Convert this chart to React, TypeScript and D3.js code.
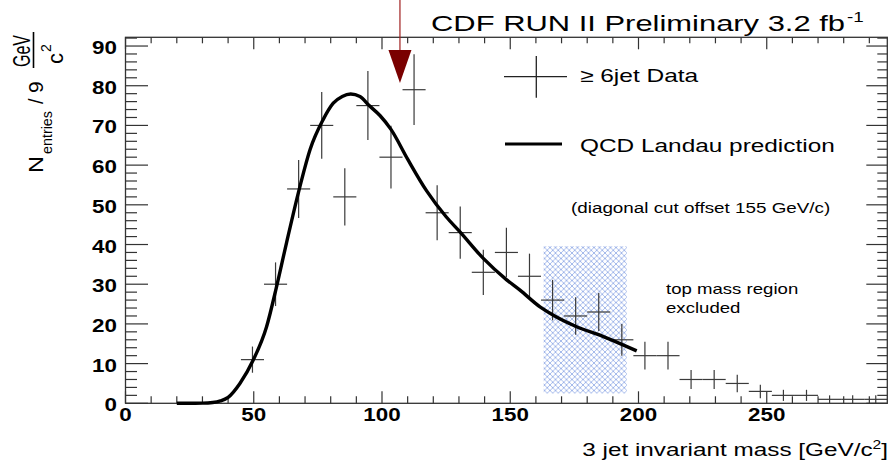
import React from "react";
import * as d3 from "d3";

// ---- data ----
const binCenters = [49.5, 58.5, 67.5, 76.5, 85.5, 94.5, 103.5, 112.5, 121.5, 130.5, 139.5, 148.5, 157.5, 166.5, 175.5, 184.5, 193.5, 202.5, 211.5, 220.5, 229.5, 238.5, 247.5, 256.5, 265.5, 274.5, 283.5, 292.5];
const counts = [11, 30, 54, 70, 52, 75, 62, 79, 48, 43, 33, 38, 32, 26, 22, 23, 16, 12, 12, 6, 6, 5, 3, 2, 2, 1, 1, 1];
const countErrors = [3.3, 5.5, 7.3, 8.4, 7.2, 8.7, 7.9, 8.9, 6.9, 6.6, 5.7, 6.2, 5.7, 5.1, 4.7, 4.8, 4.0, 3.5, 3.5, 2.4, 2.4, 2.2, 1.7, 1.4, 1.4, 1.0, 1.0, 1.0];
const binHalfWidth = 4.5;

const curveX = [20, 30, 34, 37, 40, 44.6, 49.8, 55, 58.9, 62.8, 68, 72, 77, 81, 84.5, 87.8, 91.4, 95, 99.2, 103.5, 110, 117.4, 125, 130.4, 139.5, 148.6, 153.8, 161.6, 166.8, 175.9, 186.3, 199.3];
const curveY = [0, 0.05, 0.2, 0.6, 1.5, 5.0, 10.9, 19.3, 29.4, 40.5, 54.6, 64, 71.4, 75.6, 77.3, 77.9, 77.3, 75, 72.5, 69, 61.5, 53.5, 47, 43.2, 36.5, 31.1, 28.5, 24.3, 22.2, 19.3, 16.8, 13.2];

const xTickLabels = ["0", "50", "100", "150", "200", "250"];
const yTickLabels = ["0", "10", "20", "30", "40", "50", "60", "70", "80", "90"];

const excludedMass = [163, 195.4];
const excludedCount = [2.5, 39.6];
const arrowMass = 107;

const FONT = "'Liberation Sans', Arial, Helvetica, sans-serif";

type TProps = { x: number; y: number; sx?: number; size: number; anchor?: string; weight?: string; children: React.ReactNode; fill?: string };
const T = ({ x, y, sx = 1.3, size, anchor = "start", weight = "normal", children, fill = "#000" }: TProps) => (
  <text transform={`translate(${x},${y}) scale(${sx},1)`} fontSize={size} fontWeight={weight} textAnchor={anchor as any} fill={fill} fontFamily={FONT}>
    {children}
  </text>
);

export default function App() {
  const W = 891, H = 465;
  const x = d3.scaleLinear().domain([0, 297]).range([125.5, 887.3]);
  const y = d3.scaleLinear().domain([0, 92.2]).range([403.3, 37.3]);
  const [x0, x1] = x.range();
  const [yb, yt] = y.range();

  const xMinor = d3.range(0, 297, 10);
  const yMinor = d3.range(0, 93, 2);

  const line = d3.line<number>().x((_, i) => x(curveX[i])).y((_, i) => y(curveY[i])).curve(d3.curveMonotoneX);
  const curvePath = line(curveX) || "";

  const axisColor = "#333";
  const barColor = "#3a3a3a";

  return (
    <svg width={W} height={H} style={{ position: "absolute", left: 0, top: 0, background: "#fff" }} fontFamily={FONT}>
      <defs>
        <pattern id="hatch" patternUnits="userSpaceOnUse" width={5.5} height={5.5}>
          <path d="M0,0 L5.5,5.5 M5.5,0 L0,5.5" stroke="#7f9de2" strokeWidth={0.7} />
        </pattern>
      </defs>
      <rect x={0} y={0} width={W} height={H} fill="#fff" />

      {/* hatched excluded region */}
      <rect x={x(excludedMass[0])} y={y(excludedCount[1])} width={x(excludedMass[1]) - x(excludedMass[0])} height={y(excludedCount[0]) - y(excludedCount[1])} fill="url(#hatch)" />

      {/* frame */}
      <rect x={x0} y={yt} width={x1 - x0} height={yb - yt} fill="none" stroke={axisColor} strokeWidth={1.3} />

      {/* x ticks bottom & top */}
      {xMinor.map((v) => {
        const major = v % 50 === 0;
        return (
          <g key={"xt" + v} stroke={axisColor} strokeWidth={1.2}>
            <line x1={x(v)} x2={x(v)} y1={yb} y2={yb - (major ? 12 : 7)} />
            <line x1={x(v)} x2={x(v)} y1={yt} y2={yt + (major ? 12 : 6)} />
          </g>
        );
      })}
      {/* y ticks left & right */}
      {yMinor.map((v) => {
        const major = v % 10 === 0;
        return (
          <g key={"yt" + v} stroke={axisColor} strokeWidth={1.2}>
            <line x1={x0} x2={x0 + (major ? 22.5 : 11.5)} y1={y(v)} y2={y(v)} />
            <line x1={x1} x2={x1 - (major ? 21 : 10)} y1={y(v)} y2={y(v)} />
          </g>
        );
      })}

      {/* tick labels */}
      {xTickLabels.map((s) => (
        <T key={"xl" + s} x={x(+s)} y={421} size={17.5} weight="bold" sx={1.28} anchor="middle">{s}</T>
      ))}
      {yTickLabels.map((s) => (
        <T key={"yl" + s} x={117} y={y(+s) + 8} size={17.5} weight="bold" sx={1.28} anchor="end">{s}</T>
      ))}

      {/* data points */}
      {binCenters.map((c, i) => (
        <g key={"d" + i} stroke={barColor} strokeWidth={1.2}>
          <line x1={x(c - binHalfWidth)} x2={x(c + binHalfWidth)} y1={y(counts[i])} y2={y(counts[i])} />
          <line x1={x(c)} x2={x(c)} y1={y(counts[i] - countErrors[i])} y2={y(counts[i] + countErrors[i])} />
        </g>
      ))}

      {/* prediction curve */}
      <path d={curvePath} fill="none" stroke="#000" strokeWidth={3.4} strokeLinejoin="round" />

      {/* arrow */}
      <line x1={x(arrowMass)} x2={x(arrowMass)} y1={0} y2={50} stroke="#a02020" strokeWidth={1.2} />
      <path d={`M${x(arrowMass) - 11.5},50 L${x(arrowMass) + 11.5},50 L${x(arrowMass)},83 Z`} fill="#7a0000" />

      {/* title */}
      <T x={431} y={31} size={22.5} sx={1.375}>CDF RUN II Preliminary 3.2 fb</T>
      <T x={847} y={22} size={14.5} sx={1.3}>-1</T>

      {/* legend */}
      <g stroke="#222" strokeWidth={1.3}>
        <line x1={504} x2={567} y1={76.7} y2={76.7} />
        <line x1={536.3} x2={536.3} y1={56} y2={97.7} />
      </g>
      <T x={580} y={81.7} size={18.7} sx={1.31}>≥ 6jet Data</T>
      <line x1={505} x2={562} y1={144} y2={144} stroke="#000" strokeWidth={3.2} />
      <T x={580} y={151.7} size={18.7} sx={1.305}>QCD Landau prediction</T>
      <T x={571} y={213} size={14.5} sx={1.3}>(diagonal cut offset 155 GeV/c)</T>

      <T x={666} y={294} size={14.3} sx={1.3}>top mass region</T>
      <T x={666} y={312.7} size={14.3} sx={1.3}>excluded</T>

      {/* x title */}
      <text transform="translate(888,456) scale(1.3,1)" fontSize={18.7} textAnchor="end" fontFamily={FONT}>
        3 jet invariant mass [GeV/c<tspan dy={-7} fontSize={12}>2</tspan><tspan dy={7}>]</tspan>
      </text>

      {/* y title (rotated) */}
      <g transform="translate(43,173) rotate(-90)" fontFamily={FONT}>
        <text x={0} y={0} fontSize={21} textLength={17} lengthAdjust="spacingAndGlyphs">N</text>
        <text x={19} y={8.5} fontSize={14} textLength={43} lengthAdjust="spacingAndGlyphs">entries</text>
        <text x={69} y={0} fontSize={20}>/</text>
        <text x={80} y={0} fontSize={21}>9</text>
        <text x={106} y={-13.5} fontSize={23} textLength={32} lengthAdjust="spacingAndGlyphs">GeV</text>
        <line x1={105} x2={141} y1={-9.5} y2={-9.5} stroke="#000" strokeWidth={1.6} />
        <text x={109} y={19.5} fontSize={22}>c</text>
        <text x={121} y={8} fontSize={14}>2</text>
      </g>
    </svg>
  );
}
